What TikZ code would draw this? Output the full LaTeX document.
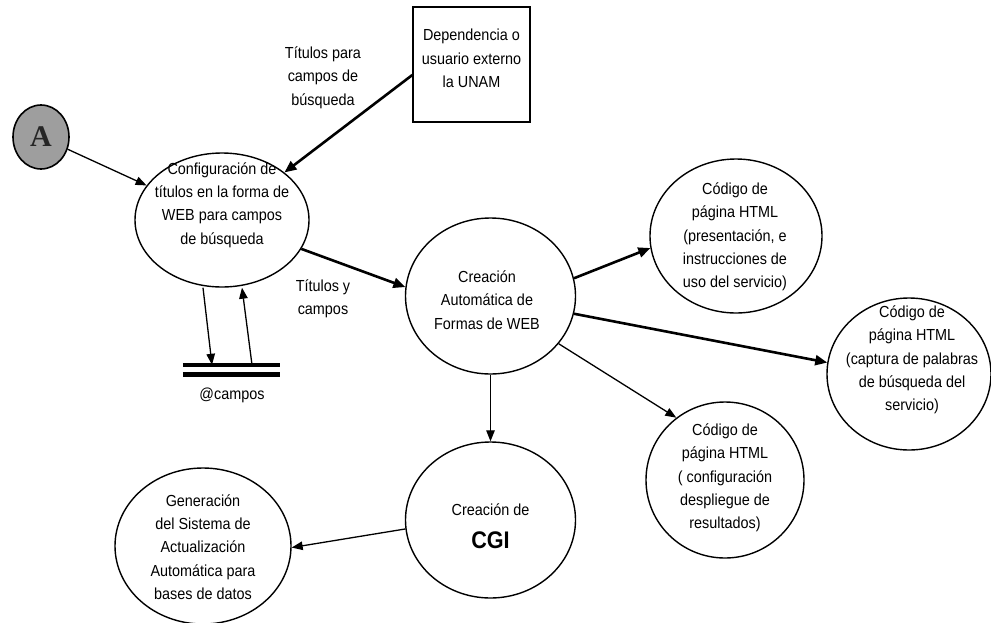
\documentclass[tikz,border=0pt]{standalone}
\usepackage{fontspec}
\setmainfont[FakeStretch=0.9]{Liberation Sans}
\newfontfamily\serifA{Liberation Serif}
\usetikzlibrary{shapes.geometric,arrows.meta}
\begin{document}
\begin{tikzpicture}[x=1pt,y=-1pt,
  proc/.style={draw,ellipse,line width=1.4pt,inner sep=0pt},
  txt/.style={align=center,font=\fontsize{16}{23.3}\selectfont,inner sep=0pt},
  flowthick/.style={line width=2.6pt,-{Triangle[length=12pt,width=10pt]}},
  flowthin/.style={line width=1.3pt,-{Triangle[length=11pt,width=8.5pt]}},
  storeline/.style={line width=4.5pt}
]
\useasboundingbox (0,0) rectangle (991,622);

% connector (off-page reference)
\node[ellipse,draw,line width=1.6pt,fill=black!38,minimum width=56pt,minimum height=64pt,inner sep=0pt]
  (A) at (41,137) {\serifA\bfseries\fontsize{30}{30}\selectfont\color{black!85}A};

% external entity
\node[draw,line width=1.4pt,minimum width=117pt,minimum height=115pt,inner sep=0pt] (box) at (471.5,64.5) {};
\node[txt] (boxT) at (471.5,58.5) {Dependencia o\\usuario externo\\la UNAM};

% processes
\node[proc,minimum width=174pt,minimum height=134pt] (cfg) at (222,220) {};
\node[txt] (cfgT) at (222,205) {Configuración de\\títulos en la forma de\\WEB para campos\\de búsqueda};

\node[proc,minimum width=170pt,minimum height=156pt] (auto) at (490.5,296) {};
\node[txt] (autoT) at (487,300) {Creación\\Automática de\\Formas de WEB};

\node[proc,minimum width=172pt,minimum height=154pt] (c1) at (736,236) {};
\node[txt] (c1T) at (735,237) {Código de\\página HTML\\(presentación, e\\instrucciones de\\uso del servicio)};

\node[proc,minimum width=164pt,minimum height=152pt] (c2) at (909,374) {};
\node[txt] (c2T) at (912,360) {Código de\\página HTML\\(captura de palabras\\de búsqueda del\\servicio)};

\node[proc,minimum width=158pt,minimum height=156pt] (c3) at (725,480) {};
\node[txt] (c3T) at (725,478) {Código de\\página HTML\\( configuración\\despliegue de\\resultados)};

\node[proc,minimum width=170pt,minimum height=156pt] (cgi) at (490.5,520) {};
\node[txt] (cgiT) at (490.5,510) {Creación de};
\node[font=\bfseries\fontsize{24}{24}\selectfont,inner sep=0pt] (cgiB) at (490.5,540) {CGI};

\node[proc,minimum width=176pt,minimum height=156pt] (gen) at (203,546) {};
\node[txt] (genT) at (203,547) {Generación\\del Sistema de\\Actualización\\Automática para\\bases de datos};

% data store
\node[minimum width=97pt,minimum height=9.5pt,inner sep=0pt] (store) at (231.5,369.75) {};
\draw[storeline] (store.north west) -- (store.north east);
\draw[storeline] (store.south west) -- (store.south east);
\node[txt] (storeT) at (232,395) {@campos};

% flow labels
\node[txt] (lbl1) at (323,77.5) {Títulos para\\campos de\\búsqueda};
\node[txt] (lbl2) at (323,298.5) {Títulos y\\campos};

% flows
\draw[flowthin] (A) -- (cfg);
\draw[flowthick] ([yshift=-10.5pt]box.west) -- (cfg);
\draw[flowthick] (cfg.-20) -- (auto.174.5);
\draw[flowthin] ([xshift=-19pt]cfg.south) -- ([xshift=-19.5pt]store.north);
\draw[flowthin] ([xshift=20.5pt]store.north) -- ([xshift=20pt]cfg.south);
\draw[flowthick] (auto.12.7) -- (c1.188);
\draw[flowthick] (auto.-12.7) -- (c2.172);
\draw[flowthin] (auto.-35.2) -- (c3.128.4);
\draw[flowthin] (auto.south) -- (cgi.north);
\draw[flowthin] (cgi.186.7) -- (gen.-1.3);
\end{tikzpicture}
\end{document}
